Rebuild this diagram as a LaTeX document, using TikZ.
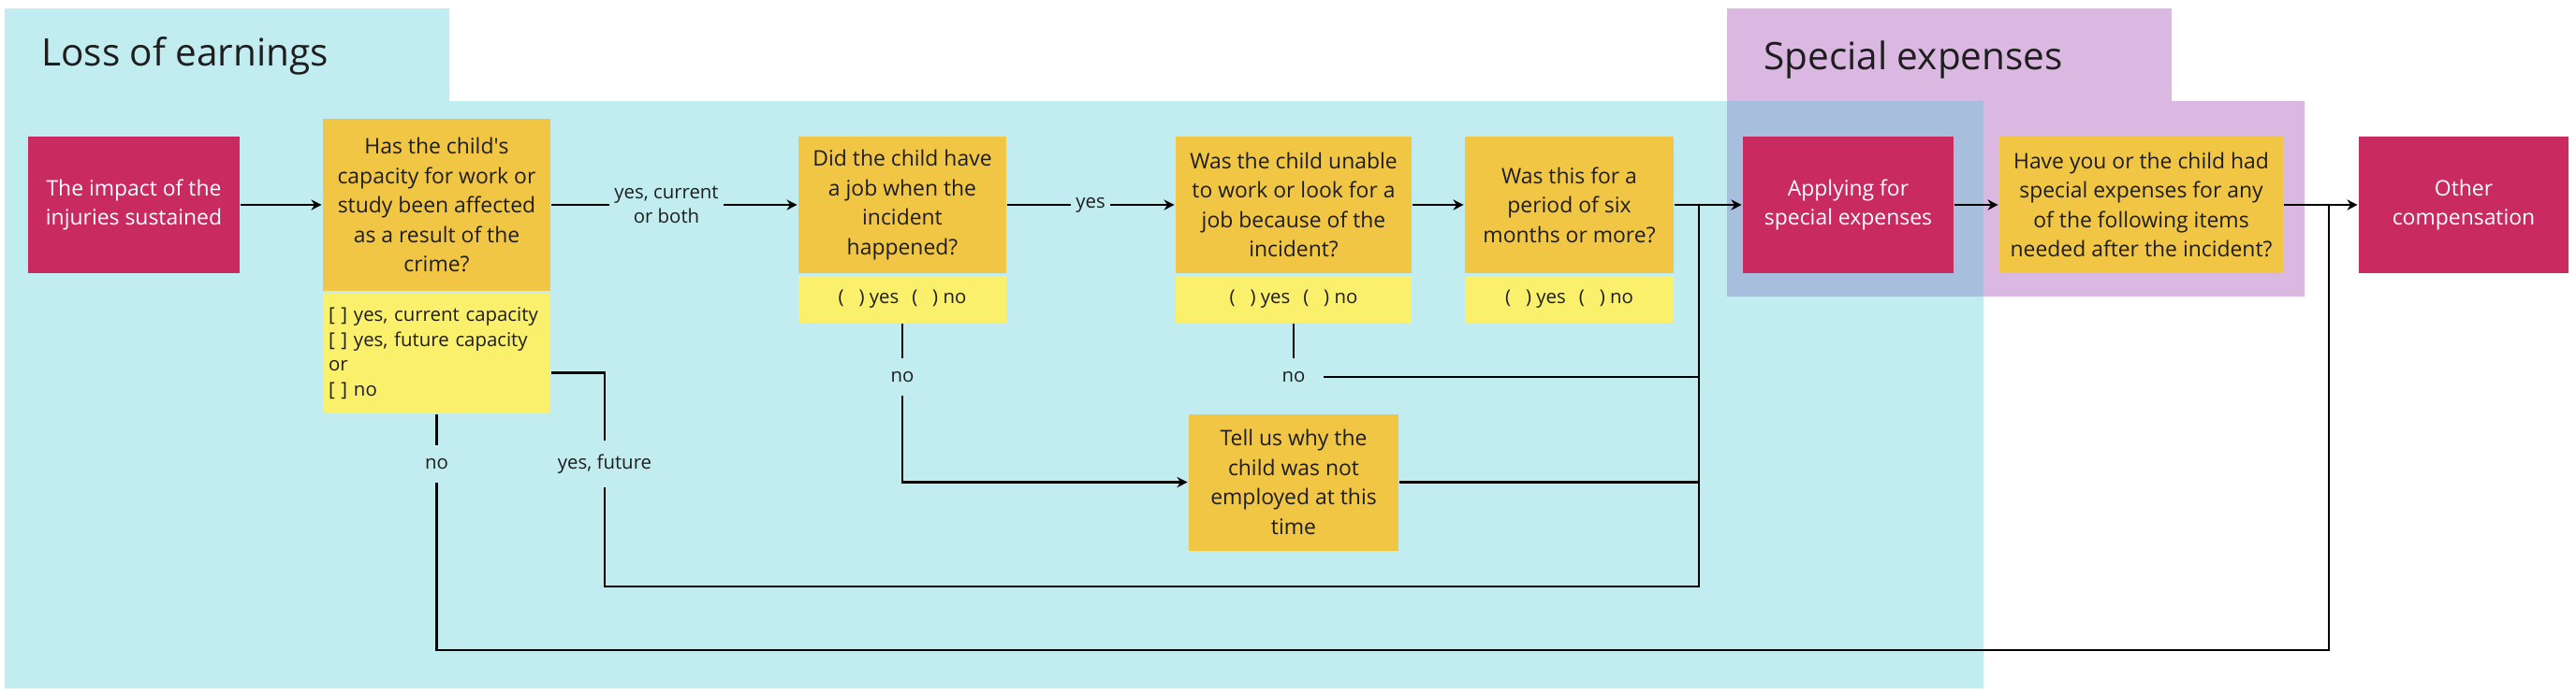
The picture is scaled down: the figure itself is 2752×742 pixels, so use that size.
\documentclass[tikz,border=0pt]{standalone}
\usepackage{fontspec}
\setmainfont{Open Sans}
\usetikzlibrary{arrows.meta}
\definecolor{lossbg}{HTML}{C2EDF0}
\definecolor{specbg}{HTML}{DAB8E2}
\definecolor{bothbg}{HTML}{A7BFDD}
\definecolor{crimson}{HTML}{C92B60}
\definecolor{amber}{HTML}{F1C645}
\definecolor{lemon}{HTML}{FAF06B}
\definecolor{ink}{HTML}{1E1E1E}
\tikzset{
  stage/.style={fill=crimson, text=white, minimum width=56.25mm, minimum height=36.5mm,
    inner sep=0pt, align=center, font=\fontsize{16.3}{22.4}\selectfont},
  ask/.style={fill=amber, text=ink, minimum height=36.5mm,
    inner sep=0pt, align=center, font=\fontsize{16.3}{22.4}\selectfont},
  reply/.style={fill=lemon, text=ink, anchor=north, minimum height=12.5mm,
    inner sep=0pt, align=center, font=\fontsize{14.5}{18.8}\selectfont},
  lbl/.style={text=ink, inner xsep=1mm, inner ysep=3.3mm, align=center,
    font=\fontsize{14.5}{19}\selectfont},
  title/.style={text=ink, anchor=base west, inner sep=0pt, font=\fontsize{28.8}{34}\selectfont},
}
\begin{document}
\begin{tikzpicture}[x=0.25mm, y=-0.25mm, line width=1.9pt, >={Stealth[length=2.8mm,width=2.8mm]}]
\useasboundingbox (0,0) rectangle (2752,742);
% sections
\fill[lossbg] (5,9) -| (480,108) -| (2119,736) -| cycle;
\fill[specbg] (1845,9) -| (2320,108) -| (2462,317) -| cycle;
\fill[bothbg] (1845,108) rectangle (2119,317);
\node[title] (loss) at (43,70) {Loss of earnings};
\node[title] (spec) at (1883,74) {Special expenses};

% boxes
\node[stage] (impact) at (143,219) {The impact of the\\injuries sustained};
\node[ask, minimum width=60.75mm, minimum height=46mm] (capacity) at (466.5,219)
  {Has the child\textquotesingle s\\capacity for work or\\study been affected\\as a result of the\\crime?};
\node[reply, minimum width=60.75mm, minimum height=32mm, text width=57.75mm, align=left] (capans) at (capacity.south)
  {{[}\ ] yes, current capacity\\{[}\ ] yes, future capacity\\or\\{[}\ ] no};
\node[ask, minimum width=55.5mm] (job) at (964,219) {Did the child have\\a job when the\\incident\\happened?};
\node[reply, minimum width=55.5mm] (jobans) at (job.south) {(\ \ \ ) yes\hspace{3.5mm}(\ \ \ ) no};
\node[ask, minimum width=63mm] (unable) at (1382,219) {Was the child unable\\to work or look for a\\job because of the\\incident?};
\node[reply, minimum width=63mm] (unableans) at (unable.south) {(\ \ \ ) yes\hspace{3.5mm}(\ \ \ ) no};
\node[ask, minimum width=55.75mm] (period) at (1676.5,219) {Was this for a\\period of six\\months or more?};
\node[reply, minimum width=55.75mm] (periodans) at (period.south) {(\ \ \ ) yes\hspace{3.5mm}(\ \ \ ) no};
\node[ask, minimum width=56mm] (tell) at (1382,515.5) {Tell us why the\\child was not\\employed at this\\time};
\node[stage] (applying) at (1974.5,219) {Applying for\\special expenses};
\node[ask, minimum width=75.75mm] (had) at (2287.5,219) {Have you or the child had\\special expenses for any\\of the following items\\needed after the incident?};
\node[stage, minimum width=56mm] (other) at (2632,219) {Other\\compensation};

% labels
\node[lbl] (ycur) at (712,219) {yes, current\\or both};
\node[lbl] (yjob) at (1165,219) {yes};
\node[lbl] (nojob) at (964,403) {no};
\node[lbl] (nounable) at (1382,403) {no};
\node[lbl] (yfut) at (646,496) {yes, future};
\node[lbl] (nocap) at (466.5,496) {no};
\coordinate (jin) at (1815,219);
\coordinate (jlow) at (1815,627);
\coordinate (jout) at (2488,219);
\coordinate (jbot) at (2488,695);

% main line
\draw[->] (impact) -- (capacity);
\draw (capacity) -- (ycur);
\draw[->] (ycur) -- (job);
\draw (job) -- (yjob);
\draw[->] (yjob) -- (unable);
\draw[->] (unable) -- (period);
\draw[->] (period) -- (applying);
\draw[->] (applying) -- (had);
\draw[->] (had) -- (other);

% branches
\draw (jobans) -- (nojob);
\draw[->] (nojob) |- (tell);
\draw (unableans) -- (nounable);
\draw ([xshift=3.5mm]nounable.east) -- (nounable -| jin);
\draw (tell) -- (tell -| jin);
\draw (capans.east) ++(0,21) -| (yfut);
\draw (yfut) |- (jlow) -- (jin);
\draw (capans) -- (nocap);
\draw (nocap) |- (jbot) -- (jout);
\end{tikzpicture}
\end{document}
